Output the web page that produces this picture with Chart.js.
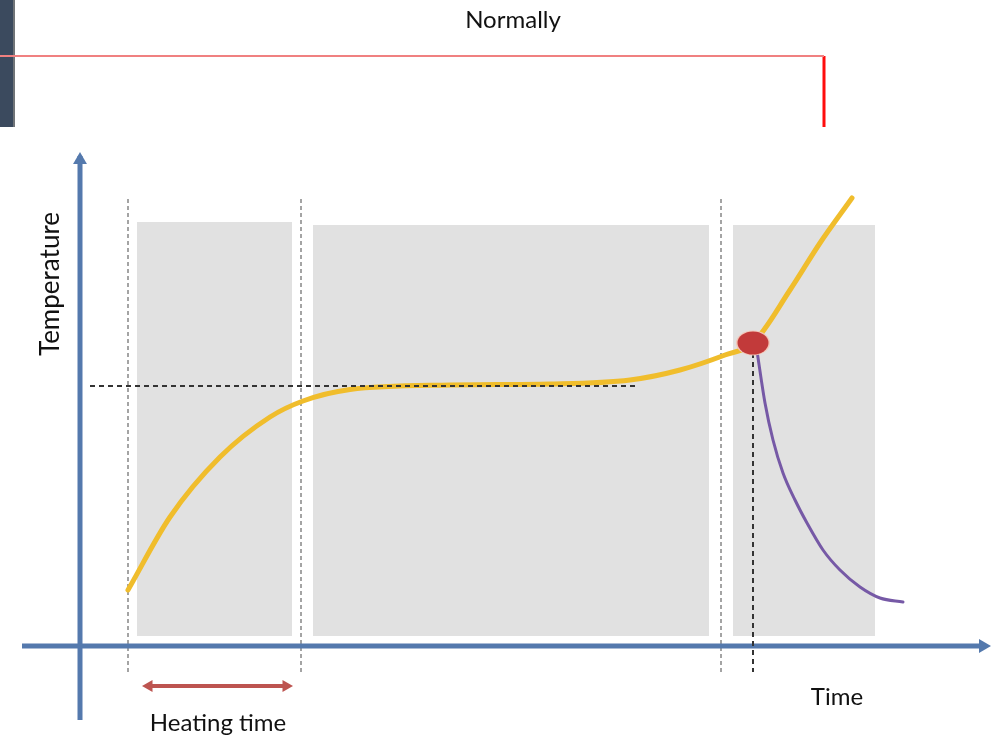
<!DOCTYPE html>
<html><head><meta charset="utf-8">
<script src="https://cdn.jsdelivr.net/npm/chart.js@4/dist/chart.umd.min.js"></script>
<style>html,body{margin:0;padding:0;background:#fff;overflow:hidden}canvas{display:block}</style>
</head><body>
<canvas id="c" width="1005" height="739"></canvas>
<script>
// Units: time on x, temperature on y, origin where the two axes cross
const heatingTime = [4.8, 9.0, 14.0, 19.0, 22.3, 27.0, 37.0, 47.0, 55.0, 60.0, 64.5, 67.3, 71.0, 74.0, 77.2];
const heatingTemp = [11.2, 25.8, 37.8, 45.8, 49.0, 51.3, 52.2, 52.4, 53.2, 55.2, 58.2, 60.6, 71.2, 80.6, 89.6];
const coolingTime = [67.7, 68.5, 69.3, 70.3, 71.5, 72.7, 74.3, 76.0, 78.0, 80.0, 82.3];
const coolingTemp = [59.0, 48.6, 41.2, 34.6, 29.2, 24.6, 19.2, 15.2, 11.8, 9.6, 8.8];
const phaseStart = [5.7, 23.3, 65.3];
const phaseEnd = [21.2, 62.9, 79.5];
const phaseTop = [84.8, 84.2, 84.2];
const phaseBottom = 2;
const phaseMarkers = [4.8, 22.1, 64.1];
const markerTop = 89.4, markerBottom = -5.2;
const holdTemp = 52;
const holdLineEnd = 55.7;
const failPoint = {time: 67.3, temp: 60.6};
const heatingWindow = [6.3, 21.2];
const heatingArrowLevel = -8;
const timeAxisRange = [-5.8, 90.5];
const tempAxisRange = [-14.8, 98];
const labelTitle = 'Normally';
const labelY = 'Temperature';
const labelX = 'Time';
const labelHeating = 'Heating time';

const pts = (xs, ys) => xs.map((x, i) => ({x, y: ys[i]}));
const AXIS = '#5479ad';
const datasets = [];
const line = (data, opt) => datasets.push(Object.assign({data, pointRadius: 0, borderWidth: 2, fill: false, tension: 0}, opt));
const arrow = (x, y, rot, color, r, ord) => datasets.push({data: [{x, y}], showLine: false, pointStyle: 'triangle', pointRotation: rot, pointRadius: r, pointBackgroundColor: color, pointBorderWidth: 0, order: ord});

// gray phases
phaseStart.forEach((s, i) => line([{x: s, y: phaseTop[i]}, {x: phaseEnd[i], y: phaseTop[i]}], {borderWidth: 0, borderColor: 'rgba(0,0,0,0)', backgroundColor: '#e1e1e1', fill: {value: phaseBottom}, order: 100}));
// phase markers
phaseMarkers.forEach(m => line([{x: m, y: markerTop}, {x: m, y: markerBottom}], {borderColor: '#a4a4a4', borderWidth: 2, borderDash: [4, 3], order: 60}));
// axes
line([{x: timeAxisRange[0], y: 0}, {x: timeAxisRange[1], y: 0}], {borderColor: AXIS, borderWidth: 5, order: 50});
line([{x: 0, y: tempAxisRange[0]}, {x: 0, y: tempAxisRange[1]}], {borderColor: AXIS, borderWidth: 5, order: 50});
arrow(90.3, 0, 90, AXIS, 8, 49);
arrow(0, 97.2, 0, AXIS, 8, 49);
// heating curve
line(pts(heatingTime, heatingTemp), {borderColor: '#f0bd2c', borderWidth: 5, cubicInterpolationMode: 'monotone', order: 30, borderCapStyle: 'round', borderJoinStyle: 'round'});
// cooling curve
line(pts(coolingTime, coolingTemp), {borderColor: '#7659a6', borderWidth: 3, cubicInterpolationMode: 'monotone', order: 25, borderCapStyle: 'round', borderJoinStyle: 'round'});
// hold temp line
line([{x: 1, y: holdTemp}, {x: holdLineEnd, y: holdTemp}], {borderColor: '#333333', borderWidth: 2, borderDash: [5, 4], order: 20});
// failure time line
line([{x: failPoint.time, y: failPoint.temp - 2}, {x: failPoint.time, y: markerBottom}], {borderColor: '#333333', borderWidth: 2, borderDash: [5, 4], order: 20});
// failure point
const dot = document.createElement('canvas');
dot.width = 36; dot.height = 28;
(function () {
  const g = dot.getContext('2d');
  g.beginPath(); g.ellipse(18, 14, 17, 12.5, 0, 0, Math.PI * 2);
  g.fillStyle = '#f3c6b8'; g.fill();
  g.beginPath(); g.ellipse(18, 14, 15.5, 11.5, 0, 0, Math.PI * 2);
  g.fillStyle = '#c23a3a'; g.fill();
})();
datasets.push({data: [{x: failPoint.time, y: failPoint.temp}], showLine: false, pointStyle: dot, pointRadius: 14, order: 5});
// heating time arrow
line([{x: heatingWindow[0] + 0.4, y: heatingArrowLevel}, {x: heatingWindow[1] - 0.4, y: heatingArrowLevel}], {borderColor: '#bd5450', borderWidth: 4, order: 10});
arrow(heatingWindow[0] + 0.6, heatingArrowLevel, 270, '#bd5450', 7, 9);
arrow(heatingWindow[1] - 0.6, heatingArrowLevel, 90, '#bd5450', 7, 9);
// top frame decoration
line([{x: -7.35, y: 129.2}, {x: -7.35, y: 103.8}], {borderColor: '#3b4a5e', borderWidth: 13, order: 8});
line([{x: -6.6, y: 129.2}, {x: -6.6, y: 103.8}], {borderColor: '#707478', borderWidth: 2, order: 8});
line([{x: -8, y: 118}, {x: 74.4, y: 118}], {borderColor: '#f08080', borderWidth: 2, order: 7});
line([{x: 74.4, y: 118}, {x: 74.4, y: 103.8}], {borderColor: '#ff0d0d', borderWidth: 3, order: 7});

const texts = {
  id: 'texts',
  afterDatasetsDraw(chart) {
    const {ctx, scales: {x, y}} = chart;
    ctx.save();
    ctx.fillStyle = '#111';
    ctx.textAlign = 'center';
    ctx.textBaseline = 'middle';
    ctx.font = '24px Lato';
    ctx.fillText(labelTitle, x.getPixelForValue(43.3), y.getPixelForValue(125.2));
    ctx.fillText(labelX, x.getPixelForValue(75.7), y.getPixelForValue(-10.2));
    ctx.fillText(labelHeating, x.getPixelForValue(13.8), y.getPixelForValue(-15.4));
    ctx.font = '26px Lato';
    ctx.translate(x.getPixelForValue(-2.9), y.getPixelForValue(72.4));
    ctx.rotate(-Math.PI / 2);
    ctx.fillText(labelY, 0, 0);
    ctx.restore();
  }
};
const bg = {id: 'bg', beforeDraw(c) { c.ctx.save(); c.ctx.fillStyle = '#fff'; c.ctx.fillRect(0, 0, c.width, c.height); c.ctx.restore(); }};

new Chart(document.getElementById('c'), {
  type: 'line',
  data: {datasets},
  options: {
    responsive: false, animation: false, devicePixelRatio: 1,
    layout: {padding: 0, autoPadding: false},
    plugins: {legend: {display: false}, tooltip: {enabled: false}, title: {display: false}},
    events: [],
    scales: {
      x: {type: 'linear', min: -8, max: 92.5, display: false},
      y: {type: 'linear', min: -18.6, max: 129.2, display: false}
    }
  },
  plugins: [bg, texts]
});
</script>
</body></html>
